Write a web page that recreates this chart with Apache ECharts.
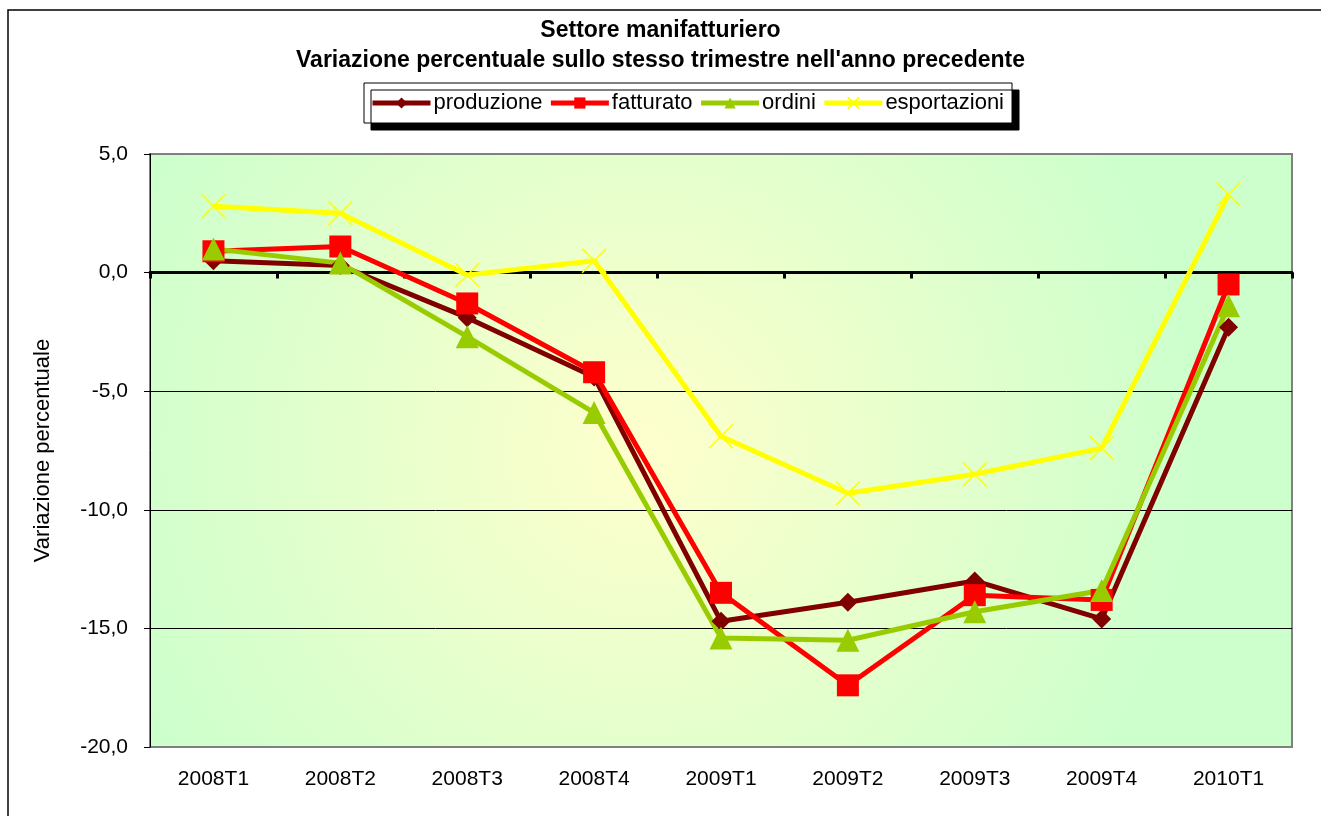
<!DOCTYPE html>
<html>
<head>
<meta charset="utf-8">
<script src="https://cdn.jsdelivr.net/npm/echarts@6/dist/echarts.min.js"></script>
<style>
  html, body { margin: 0; padding: 0; background: #fff; }
  #chart { width: 1321px; height: 816px; }
</style>
</head>
<body>
<div id="chart"></div>
<script>
// trimestri
var categories = ['2008T1', '2008T2', '2008T3', '2008T4', '2009T1', '2009T2', '2009T3', '2009T4', '2010T1'];
// variazioni percentuali
var produzione = [0.5, 0.3, -1.9, -4.4, -14.7, -13.9, -13.0, -14.6, -2.3];
var fatturato = [0.9, 1.1, -1.3, -4.2, -13.5, -17.4, -13.6, -13.8, -0.5];
var ordini = [1.0, 0.4, -2.7, -5.9, -15.4, -15.5, -14.3, -13.4, -1.4];
var esportazioni = [2.8, 2.5, -0.1, 0.5, -6.9, -9.3, -8.5, -7.4, 3.3];
var yTicks = [-20, -15, -10, -5, 0, 5];

var FONT = '"Liberation Sans", Arial, sans-serif';
var crossPath = 'path://M0,0L10,10M10,0L0,10';

var chart = echarts.init(document.getElementById('chart'));

function lineSeries(name, data, color, symbol, size) {
  return {
    name: name,
    type: 'line',
    data: data,
    symbol: symbol,
    symbolSize: size,
    lineStyle: { color: color, width: 5 },
    itemStyle: { color: color },
    emphasis: { disabled: true },
    animation: false
  };
}

var option = {
  backgroundColor: '#fff',
  textStyle: { fontFamily: FONT },
  title: {
    text: 'Settore manifatturiero\nVariazione percentuale sullo stesso trimestre nell\'anno precedente',
    left: 'center',
    top: 11,
    textStyle: { fontSize: 23, fontWeight: 'bold', color: '#000', lineHeight: 30, fontFamily: FONT }
  },
  legend: {
    top: 83,
    left: 364,
    itemWidth: 58,
    itemHeight: 14,
    itemGap: 6,
    padding: [9, 8, 9, 6],
    backgroundColor: '#fff',
    borderColor: '#000',
    borderWidth: 1,
    shadowColor: '#000',
    shadowOffsetX: 7,
    shadowOffsetY: 7,
    shadowBlur: 0,
    lineStyle: { width: 5 },
    textStyle: { fontSize: 22, color: '#000', padding: [0, 0, 0, -2] },
    data: ['produzione', 'fatturato', 'ordini', 'esportazioni']
  },
  grid: {
    left: 150,
    top: 154,
    right: 29,
    bottom: 69,
    show: true,
    borderColor: '#808080',
    borderWidth: 2,
    backgroundColor: {
      type: 'radial',
      x: 0.43, y: 0.5, r: 0.95,
      colorStops: [
        { offset: 0, color: '#FFFFCC' },
        { offset: 1, color: '#CCFFCC' }
      ]
    }
  },
  xAxis: [{
    type: 'category',
    data: categories,
    boundaryGap: true,
    axisLine: { show: false, onZero: false },
    axisTick: { show: false },
    axisLabel: { fontSize: 21, color: '#000', margin: 22 },
    splitLine: { show: false }
  }, {
    type: 'category',
    data: categories,
    position: 'top',
    boundaryGap: true,
    axisLine: { onZero: true, lineStyle: { color: '#000', width: 3 } },
    axisTick: { show: true, inside: true, length: 6, lineStyle: { color: '#000', width: 3 } },
    axisLabel: { show: false },
    splitLine: { show: false }
  }],
  yAxis: {
    type: 'value',
    min: yTicks[0],
    max: yTicks[yTicks.length - 1],
    interval: 5,
    name: 'Variazione percentuale',
    nameLocation: 'middle',
    nameRotate: 90,
    nameGap: 96,
    nameTextStyle: { fontSize: 22, color: '#000' },
    axisLine: { show: true, lineStyle: { color: '#000', width: 1 } },
    axisTick: { show: true, length: 6, lineStyle: { color: '#000' } },
    axisLabel: {
      fontSize: 21, color: '#000', margin: 22,
      formatter: function (v) { return v.toFixed(1).replace('.', ','); }
    },
    splitLine: {
      show: true,
      lineStyle: { color: ['#808080', '#000', '#000', '#000', '#000', '#808080'], width: 1 }
    }
  },
  graphic: [{
    type: 'rect',
    shape: { x: 8, y: 10, width: 1400, height: 900 },
    style: { fill: 'none', stroke: '#000', lineWidth: 1.5 },
    silent: true,
    z: -1
  }],
  series: [
    lineSeries('produzione', produzione, '#800000', 'diamond', 19),
    lineSeries('fatturato', fatturato, '#FF0000', 'rect', 22),
    lineSeries('ordini', ordini, '#99CC00', 'triangle', 23),
    (function () {
      var s = lineSeries('esportazioni', esportazioni, '#FFFF00', crossPath, 24);
      s.itemStyle = { color: 'none', borderColor: '#FFFF00', borderWidth: 1.5 };
      return s;
    })()
  ]
};

chart.setOption(option);
</script>
</body>
</html>
